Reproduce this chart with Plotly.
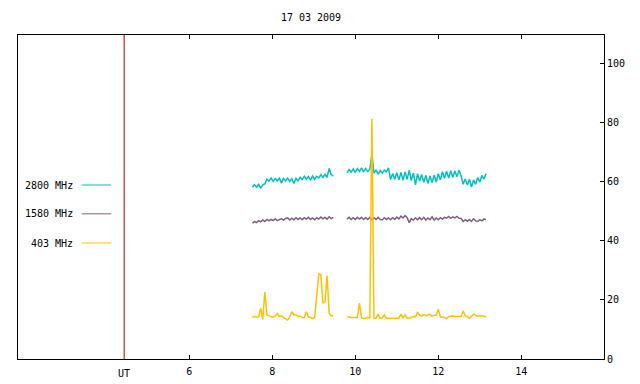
import plotly.graph_objects as go

# ---- data (hours UT, solar flux units) ----
seg1_start, seg2_start, step = 7.52, 9.80, 0.05

cyan_seg1 = [58.2, 59.1, 58.3, 59.2, 58.0, 59.0, 59.3, 60.9, 60.3, 61.3,
             60.2, 61.2, 60.4, 61.3, 59.6, 61.2, 60.3, 61.3, 60.2, 61.1,
             59.5, 61.2, 60.4, 61.6, 60.8, 61.9, 60.9, 61.8, 60.7, 62.0,
             60.9, 61.9, 61.4, 62.5, 61.5, 62.6, 61.6, 64.6, 62.5, 62.0]
purple_seg1 = [46.0, 46.6, 46.2, 46.9, 46.5, 47.1, 46.6, 47.3, 46.8, 47.3,
               46.9, 47.5, 46.9, 47.4, 47.6, 47.0, 47.6, 47.8, 47.1, 47.7,
               47.2, 47.9, 47.3, 47.8, 47.2, 47.9, 47.4, 48.0, 47.3, 47.8,
               47.2, 47.9, 47.4, 48.1, 47.5, 48.0, 47.4, 48.2, 47.6, 48.0]
yellow_seg1 = [14.1, 14.4, 14.2, 14.3, 17.2, 13.4, 22.7, 15.0, 14.6, 14.3,
               14.2, 14.5, 15.4, 14.4, 14.6, 14.1, 13.6, 13.2, 14.2, 16.0,
               15.0, 15.0, 14.4, 14.5, 14.1, 14.0, 16.0, 14.2, 14.1, 13.7,
               14.0, 22.7, 28.8, 28.6, 18.9, 19.5, 28.3, 15.4, 14.5, 14.8]

cyan_seg2 = [63.1, 64.2, 63.3, 64.4, 63.2, 64.5, 63.6, 64.8, 63.4, 64.6,
             63.5, 64.3, 69.5, 63.0, 64.1, 62.6, 63.9, 63.0, 64.0, 63.4,
             64.8, 60.8, 62.9, 60.9, 63.1, 60.7, 63.2, 60.6, 63.4, 60.9,
             64.0, 60.5, 63.0, 59.0, 62.8, 60.3, 62.5, 59.9, 62.2, 59.5,
             62.0, 59.8, 62.3, 60.0, 62.8, 60.7, 63.5, 61.2, 63.6, 61.3,
             63.8, 61.6, 63.7, 61.8, 64.0, 62.0, 59.2, 61.0, 59.0, 60.9,
             58.3, 60.7, 59.2, 61.5, 60.0, 62.2, 61.0, 62.8]
purple_seg2 = [47.4, 48.0, 47.3, 47.9, 47.3, 48.0, 47.4, 48.0, 47.3, 47.9,
               47.3, 48.0, 47.2, 47.9, 47.3, 48.0, 47.3, 47.2, 47.9, 47.3,
               47.8, 47.2, 47.9, 47.3, 48.1, 47.5, 48.4, 47.8, 48.6, 47.9,
               46.2, 47.6, 47.1, 47.8, 47.2, 47.9, 47.2, 48.0, 47.1, 47.8,
               47.2, 48.2, 47.1, 47.8, 47.2, 47.9, 47.4, 48.0, 47.7, 48.3,
               47.7, 48.2, 47.8, 48.3, 47.7, 47.6, 46.6, 47.2, 46.7, 47.3,
               46.6, 47.5, 46.8, 46.6, 47.2, 46.8, 47.4, 47.3]
yellow_seg2 = [14.1, 14.3, 14.1, 14.0, 14.1, 14.1, 18.9, 14.0, 13.7, 13.8,
               14.1, 13.9, 81.4, 13.8, 13.8, 15.2, 13.8, 13.9, 15.0, 13.8,
               13.8, 13.9, 13.8, 13.9, 14.0, 13.8, 15.2, 13.9, 15.0, 13.8,
               13.9, 14.0, 14.5, 14.3, 15.8, 14.9, 14.6, 15.0, 14.7, 15.0,
               15.2, 14.5, 14.8, 14.8, 16.9, 14.3, 14.3, 14.1, 13.7, 14.4,
               14.5, 14.6, 14.4, 14.5, 14.6, 14.5, 16.3, 14.6, 14.4, 13.8,
               14.5, 15.2, 14.8, 14.5, 14.7, 14.6, 14.6, 14.1]

series_names = ["2800 MHz", "1580 MHz", "403 MHz"]
series_colors = ["#00C0C0", "#7F5F7F", "#FFC000"]
tick_vals = [6, 8, 10, 12, 14]
tick_text = ["6", "8", "10", "12", "14"]
ut_marker = 4.43
title_text = "17 03 2009"

t1 = [round(seg1_start + step * i, 3) for i in range(len(cyan_seg1))]
t2 = [round(seg2_start + step * i, 3) for i in range(len(cyan_seg2))]
gap_t = 9.65
times = t1 + [gap_t] + t2

series_vals = [cyan_seg1 + [None] + cyan_seg2,
               purple_seg1 + [None] + purple_seg2,
               yellow_seg1 + [None] + yellow_seg2]

FONT = "DejaVu Sans Mono"
fig = go.Figure()
for name, col, vals in zip(series_names, series_colors, series_vals):
    fig.add_trace(go.Scatter(x=times, y=vals, mode="lines", name=name,
                             line=dict(color=col, width=1.5),
                             connectgaps=False, showlegend=False,
                             hoverinfo="skip"))

# red UT vertical line
fig.add_shape(type="line", xref="x", yref="paper", x0=ut_marker, x1=ut_marker,
              y0=0, y1=1, line=dict(color="#A00000", width=1))
fig.add_annotation(x=ut_marker, y=0, xref="x", yref="paper", yshift=-14,
                   yanchor="middle", text="UT", showarrow=False,
                   font=dict(family=FONT, size=10, color="black"))

# manual legend
leg_y = [0.537, 0.448, 0.358]
for name, col, yy in zip(series_names, series_colors, leg_y):
    fig.add_annotation(x=0.098, y=yy, xref="paper", yref="paper", text=name,
                       showarrow=False, xanchor="right", yanchor="middle",
                       font=dict(family=FONT, size=10, color="black"))
    fig.add_shape(type="line", xref="paper", yref="paper", x0=0.109, x1=0.159,
                  y0=yy, y1=yy, line=dict(color=col, width=1))

fig.update_layout(
    width=640, height=384,
    margin=dict(l=18, r=36, t=35, b=25, autoexpand=False),
    paper_bgcolor="white", plot_bgcolor="white",
    title=dict(text=title_text, x=0.486, xanchor="center", y=0.955, yanchor="middle",
               font=dict(family=FONT, size=10, color="black")),
    font=dict(family=FONT, size=10, color="black"),
    xaxis=dict(range=[1.872, 15.993], tickvals=tick_vals, ticktext=tick_text,
               ticks="inside", ticklen=4, tickcolor="black", ticklabelstandoff=3,
               automargin=False,
               showline=True, linecolor="black", linewidth=1, mirror="allticks",
               showgrid=False, zeroline=False),
    yaxis=dict(range=[0, 109.8], side="right", tickvals=[0, 20, 40, 60, 80, 100],
               ticks="inside", ticklen=4, tickcolor="black", automargin=False,
               showline=True, linecolor="black", linewidth=1, mirror=True,
               showgrid=False, zeroline=False),
)

fig.write_html("out.html", config={"displayModeBar": False},
               post_script="document.body.style.margin='0';document.body.style.overflow='hidden';")
